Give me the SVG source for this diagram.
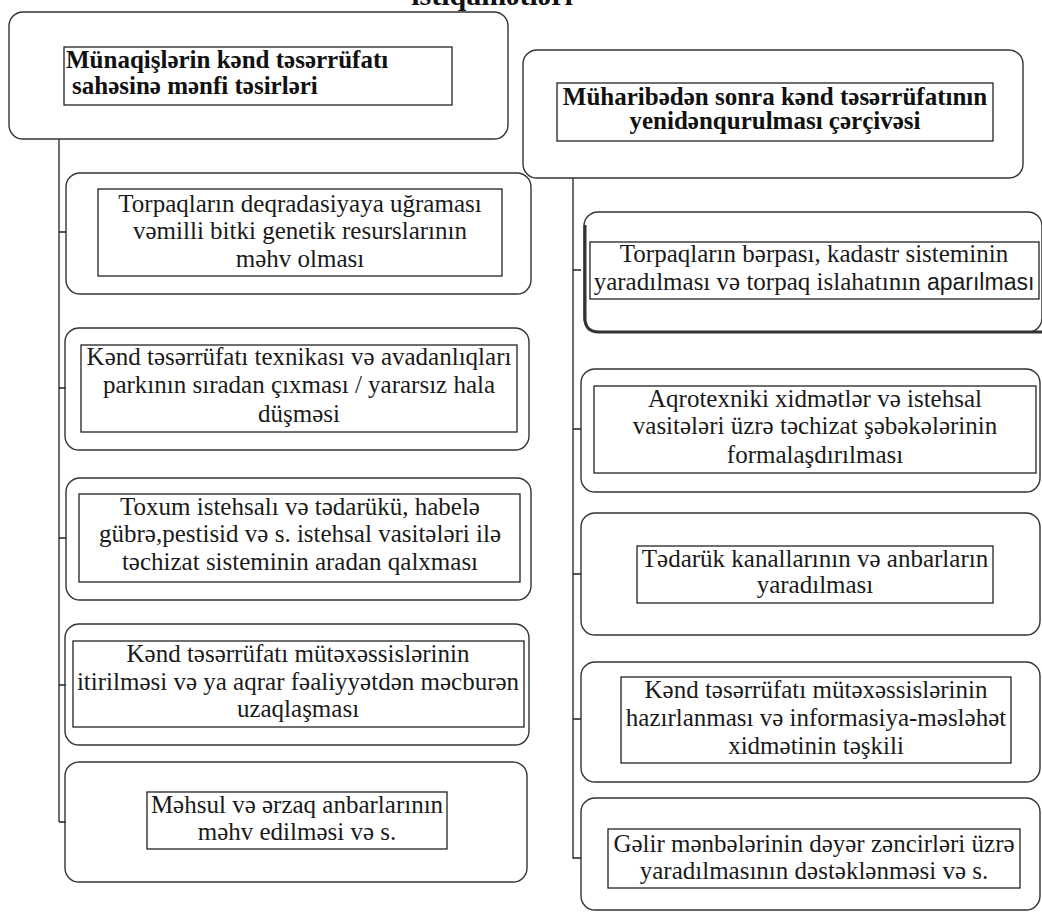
<svg xmlns="http://www.w3.org/2000/svg" width="1042" height="915" viewBox="0 0 1042 915">
<style>
.outer{fill:none;stroke:#333;stroke-width:1.4}
.inner{fill:none;stroke:#222;stroke-width:1.3}
.conn{fill:none;stroke:#222;stroke-width:1.3}
text{font-family:'Liberation Serif','Times New Roman','DejaVu Serif',serif}
.t{font-size:25px;fill:#1a1a1a;text-anchor:middle}
.h{font-size:25px;font-weight:bold;fill:#111}
.s{font-family:'Liberation Sans',Arial,sans-serif;font-size:23px}
</style>
<rect width="1042" height="915" fill="#fff"/>
<text class="h" x="492" y="5" text-anchor="middle" font-family="Liberation Serif, serif" style="font-size:30px">istiqamətləri</text>

<g id="connectors">
<path class="conn" d="M59 139 V822 M59 822 H66 M59 232 H66 M59 388 H66 M59 538 H66 M59 685 H66"/>
<path class="conn" d="M573 178 V858 H581 M573 270 H581 M573 429 H581 M573 574 H581 M573 719 H581"/>
</g>

<g id="left-header">
<rect class="outer" x="9" y="12" width="499" height="127" rx="14"/>
<rect class="inner" x="64" y="47" width="388" height="58"/>
<text class="h" x="66" y="68" font-family="Liberation Serif, serif">Münaqişlərin kənd təsərrüfatı</text>
<text class="h" x="72" y="94" font-family="Liberation Serif, serif">sahəsinə mənfi təsirləri</text>
</g>

<g id="right-header">
<rect class="outer" x="523" y="50" width="500" height="128" rx="14"/>
<rect class="inner" x="557" y="83" width="436" height="58"/>
<text class="h" x="775" y="105" text-anchor="middle" font-family="Liberation Serif, serif">Müharibədən sonra kənd təsərrüfatının</text>
<text class="h" x="775" y="129" text-anchor="middle" font-family="Liberation Serif, serif">yenidənqurulması çərçivəsi</text>
</g>

<g id="l1">
<rect class="outer" x="66" y="173" width="465" height="121" rx="14"/>
<rect class="inner" x="98" y="189" width="404" height="87"/>
<text class="t" x="300" y="212" font-family="Liberation Serif, serif">Torpaqların  deqradasiyaya uğraması</text>
<text class="t" x="300" y="239" font-family="Liberation Serif, serif">vəmilli  bitki genetik resurslarının</text>
<text class="t" x="300" y="267" font-family="Liberation Serif, serif">məhv  olması</text>
</g>

<g id="l2">
<rect class="outer" x="65" y="328" width="464" height="122" rx="14"/>
<rect class="inner" x="81" y="345" width="436" height="87"/>
<text class="t" x="299" y="365" font-family="Liberation Serif, serif">Kənd təsərrüfatı texnikası və avadanlıqları</text>
<text class="t" x="299" y="393" font-family="Liberation Serif, serif">parkının sıradan çıxması / yararsız hala</text>
<text class="t" x="299" y="422" font-family="Liberation Serif, serif">düşməsi</text>
</g>

<g id="l3">
<rect class="outer" x="66" y="478" width="465" height="122" rx="14"/>
<rect class="inner" x="79" y="494" width="441" height="88"/>
<text class="t" x="300" y="515" font-family="Liberation Serif, serif">Toxum istehsalı və tədarükü, habelə</text>
<text class="t" x="300" y="542" font-family="Liberation Serif, serif">gübrə,pestisid  və s. istehsal vasitələri ilə</text>
<text class="t" x="300" y="570" font-family="Liberation Serif, serif">təchizat sisteminin aradan qalxması</text>
</g>

<g id="l4">
<rect class="outer" x="65" y="624" width="464" height="121" rx="14"/>
<rect class="inner" x="73" y="641" width="451" height="86"/>
<text class="t" x="298" y="662" font-family="Liberation Serif, serif">Kənd təsərrüfatı mütəxəssislərinin</text>
<text class="t" x="298" y="690" font-family="Liberation Serif, serif">itirilməsi və ya aqrar  fəaliyyətdən məcburən</text>
<text class="t" x="298" y="717" font-family="Liberation Serif, serif">uzaqlaşması</text>
</g>

<g id="l5">
<rect class="outer" x="65" y="762" width="462" height="120" rx="14"/>
<rect class="inner" x="147" y="792" width="300" height="57"/>
<text class="t" x="297" y="813" font-family="Liberation Serif, serif">Məhsul və ərzaq anbarlarının</text>
<text class="t" x="297" y="840" font-family="Liberation Serif, serif">məhv edilməsi  və s.</text>
</g>

<g id="r1">
<rect class="outer" x="584" y="212" width="458" height="120" rx="14"/>
<path d="M585 225 V318 Q585 332 599 332 H1042" fill="none" stroke="#333" stroke-width="3"/>
<rect class="inner" x="590" y="242" width="449" height="57"/>
<text class="t" x="814" y="262" font-family="Liberation Serif, serif">Torpaqların  bərpası, kadastr sisteminin</text>
<text class="t" x="814" y="290" font-family="Liberation Serif, serif">yaradılması  və torpaq islahatının <tspan class="s" font-family="Liberation Sans, sans-serif">aparılması</tspan></text>
</g>

<g id="r2">
<rect class="outer" x="581" y="369" width="459" height="123" rx="14"/>
<rect class="inner" x="594" y="386" width="442" height="87"/>
<text class="t" x="815" y="407" font-family="Liberation Serif, serif">Aqrotexniki xidmətlər və istehsal</text>
<text class="t" x="815" y="434" font-family="Liberation Serif, serif">vasitələri üzrə təchizat şəbəkələrinin</text>
<text class="t" x="815" y="463" font-family="Liberation Serif, serif">formalaşdırılması</text>
</g>

<g id="r3">
<rect class="outer" x="581" y="513" width="459" height="122" rx="14"/>
<rect class="inner" x="637" y="546" width="356" height="57"/>
<text class="t" x="815" y="567" font-family="Liberation Serif, serif">Tədarük kanallarının  və anbarların</text>
<text class="t" x="815" y="593" font-family="Liberation Serif, serif">yaradılması</text>
</g>

<g id="r4">
<rect class="outer" x="581" y="662" width="459" height="120" rx="14"/>
<rect class="inner" x="621" y="677" width="390" height="86"/>
<text class="t" x="816" y="698" font-family="Liberation Serif, serif">Kənd təsərrüfatı mütəxəssislərinin</text>
<text class="t" x="816" y="726" font-family="Liberation Serif, serif">hazırlanması  və informasiya-məsləhət</text>
<text class="t" x="816" y="754" font-family="Liberation Serif, serif">xidmətinin təşkili</text>
</g>

<g id="r5">
<rect class="outer" x="581" y="798" width="459" height="112" rx="14"/>
<rect class="inner" x="608" y="829" width="412" height="59"/>
<text class="t" x="814" y="852" font-family="Liberation Serif, serif">Gəlir mənbələrinin  dəyər zəncirləri üzrə</text>
<text class="t" x="814" y="879" font-family="Liberation Serif, serif">yaradılmasının  dəstəklənməsi və s.</text>
</g>
</svg>
